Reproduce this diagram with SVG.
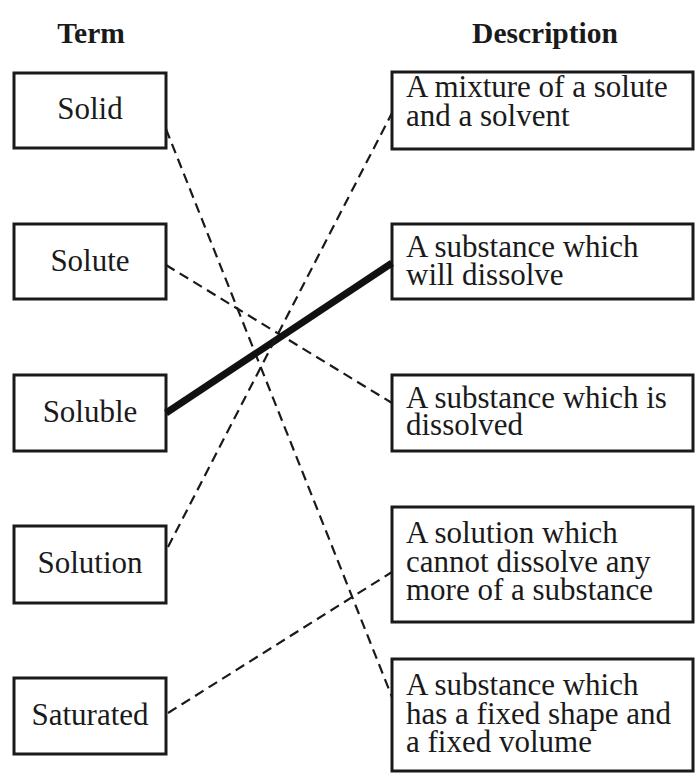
<svg xmlns="http://www.w3.org/2000/svg" width="697" height="774" viewBox="0 0 697 774">
<style>
.box{fill:#fff;stroke:#1a1a1a;stroke-width:3}
.t{font-family:"Liberation Serif","Times New Roman",serif;font-size:31px;fill:#1a1a1a}
.c{text-anchor:middle}
.h{font-weight:bold;font-size:29.5px}
.d{fill:none;stroke:#1a1a1a;stroke-width:2.2;stroke-dasharray:10 6}
.s{fill:none;stroke:#111;stroke-width:7}
</style>
<rect width="697" height="774" fill="#fff"/>
<text class="t h c" x="91" y="43">Term</text>
<text class="t h c" x="545" y="43">Description</text>
<g id="solid"><rect class="box" x="14" y="73" width="152" height="75"/><text class="t c" x="90" y="119">Solid</text></g>
<g id="solute"><rect class="box" x="14" y="224" width="152" height="75"/><text class="t c" x="90" y="271">Solute</text></g>
<g id="soluble"><rect class="box" x="14" y="375" width="152" height="76"/><text class="t c" x="90" y="422">Soluble</text></g>
<g id="solution"><rect class="box" x="14" y="526" width="152" height="77"/><text class="t c" x="90" y="573">Solution</text></g>
<g id="saturated"><rect class="box" x="14" y="678" width="152" height="76"/><text class="t c" x="90" y="725">Saturated</text></g>
<g id="d1"><rect class="box" x="392" y="72" width="301" height="77"/><text class="t" x="406" y="97">A mixture of a solute</text><text class="t" x="406" y="126">and a solvent</text></g>
<g id="d2"><rect class="box" x="392" y="224" width="301" height="75"/><text class="t" x="406" y="257">A substance which</text><text class="t" x="406" y="285">will dissolve</text></g>
<g id="d3"><rect class="box" x="392" y="375" width="301" height="76"/><text class="t" x="406" y="408">A substance which is</text><text class="t" x="406" y="435">dissolved</text></g>
<g id="d4"><rect class="box" x="392" y="507" width="301" height="115"/><text class="t" x="406" y="543">A solution which</text><text class="t" x="406" y="572">cannot dissolve any</text><text class="t" x="406" y="600">more of a substance</text></g>
<g id="d5"><rect class="box" x="392" y="659" width="301" height="112"/><text class="t" x="406" y="695">A substance which</text><text class="t" x="406" y="724">has a fixed shape and</text><text class="t" x="406" y="752">a fixed volume</text></g>
<g id="connectors">
<line class="d" x1="166" y1="129" x2="392" y2="697"/>
<line class="d" x1="166" y1="265" x2="392" y2="403"/>
<line class="s" x1="166" y1="413" x2="392" y2="263"/>
<line class="d" x1="168" y1="547" x2="392" y2="113"/>
<line class="d" x1="168" y1="713" x2="392" y2="572"/>
</g>
</svg>
